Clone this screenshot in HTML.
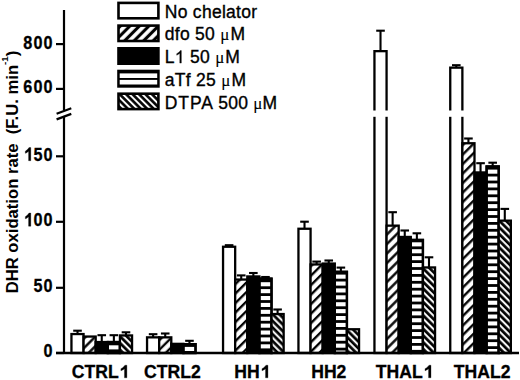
<!DOCTYPE html>
<html><head><meta charset="utf-8"><style>
html,body{margin:0;padding:0;background:#fff;width:520px;height:380px;overflow:hidden}
svg{display:block}
text{font-family:"Liberation Sans",sans-serif;fill:#000}
.tl{font-weight:bold;font-size:18.4px;text-anchor:end;letter-spacing:1.3px;stroke:#000;stroke-width:0.3px}
.xl{font-weight:bold;font-size:17.6px;text-anchor:middle;stroke:#000;stroke-width:0.3px}
.lg{font-size:17.5px;letter-spacing:0.28px;stroke:#000;stroke-width:0.35px}
.one{fill:none!important;stroke:none!important}
.yl{font-weight:bold;font-size:16.65px;text-anchor:middle}
</style></head><body>
<svg width="520" height="380" viewBox="0 0 520 380">
<defs>
<pattern id="p1" patternUnits="userSpaceOnUse" width="6.72" height="10" patternTransform="translate(82.42,335.4) rotate(45)"><rect width="6.72" height="10" fill="#fff"/><rect x="2.13" width="2.35" height="10" fill="#000"/><rect x="8.85" width="2.35" height="10" fill="#000"/><rect x="-4.58" width="2.35" height="10" fill="#000"/></pattern>
<pattern id="p2" patternUnits="userSpaceOnUse" width="4.74" height="10" patternTransform="translate(118.78,334.3) rotate(-45)"><rect width="4.74" height="10" fill="#000"/><rect x="0.78" width="2" height="10" fill="#fff"/><rect x="5.52" width="2" height="10" fill="#fff"/><rect x="-3.96" width="2" height="10" fill="#fff"/></pattern>
<pattern id="p3" patternUnits="userSpaceOnUse" width="6.72" height="10" patternTransform="translate(158.02,336.2) rotate(45)"><rect width="6.72" height="10" fill="#fff"/><rect x="2.63" width="2.35" height="10" fill="#000"/><rect x="9.35" width="2.35" height="10" fill="#000"/><rect x="-4.09" width="2.35" height="10" fill="#000"/></pattern>
<pattern id="p4" patternUnits="userSpaceOnUse" width="6.72" height="10" patternTransform="translate(234.02,278.4) rotate(45)"><rect width="6.72" height="10" fill="#fff"/><rect x="3.83" width="2.35" height="10" fill="#000"/><rect x="10.55" width="2.35" height="10" fill="#000"/><rect x="-2.89" width="2.35" height="10" fill="#000"/></pattern>
<pattern id="p5" patternUnits="userSpaceOnUse" width="4.74" height="10" patternTransform="translate(270.38,312.9) rotate(-45)"><rect width="4.74" height="10" fill="#000"/><rect x="2.05" width="2" height="10" fill="#fff"/><rect x="6.79" width="2" height="10" fill="#fff"/><rect x="-2.68" width="2" height="10" fill="#fff"/></pattern>
<pattern id="p6" patternUnits="userSpaceOnUse" width="6.72" height="10" patternTransform="translate(309.42,263.3) rotate(45)"><rect width="6.72" height="10" fill="#fff"/><rect x="1.92" width="2.35" height="10" fill="#000"/><rect x="8.64" width="2.35" height="10" fill="#000"/><rect x="-4.8" width="2.35" height="10" fill="#000"/></pattern>
<pattern id="p7" patternUnits="userSpaceOnUse" width="4.74" height="10" patternTransform="translate(345.78,328.1) rotate(-45)"><rect width="4.74" height="10" fill="#000"/><rect x="0.71" width="2" height="10" fill="#fff"/><rect x="5.45" width="2" height="10" fill="#fff"/><rect x="-4.03" width="2" height="10" fill="#fff"/></pattern>
<pattern id="p8" patternUnits="userSpaceOnUse" width="6.72" height="10" patternTransform="translate(385.42,224.5) rotate(45)"><rect width="6.72" height="10" fill="#fff"/><rect x="0.23" width="2.35" height="10" fill="#000"/><rect x="6.94" width="2.35" height="10" fill="#000"/><rect x="-6.49" width="2.35" height="10" fill="#000"/></pattern>
<pattern id="p9" patternUnits="userSpaceOnUse" width="4.74" height="10" patternTransform="translate(421.78,266.3) rotate(-45)"><rect width="4.74" height="10" fill="#000"/><rect x="0.78" width="2" height="10" fill="#fff"/><rect x="5.52" width="2" height="10" fill="#fff"/><rect x="-3.96" width="2" height="10" fill="#fff"/></pattern>
<pattern id="p10" patternUnits="userSpaceOnUse" width="6.72" height="10" patternTransform="translate(461.22,142.1) rotate(45)"><rect width="6.72" height="10" fill="#fff"/><rect x="1.99" width="2.35" height="10" fill="#000"/><rect x="8.71" width="2.35" height="10" fill="#000"/><rect x="-4.72" width="2.35" height="10" fill="#000"/></pattern>
<pattern id="p11" patternUnits="userSpaceOnUse" width="4.74" height="10" patternTransform="translate(497.58,219.5) rotate(-45)"><rect width="4.74" height="10" fill="#000"/><rect x="1.7" width="2" height="10" fill="#fff"/><rect x="6.44" width="2" height="10" fill="#fff"/><rect x="-3.04" width="2" height="10" fill="#fff"/></pattern>
<pattern id="p12" patternUnits="userSpaceOnUse" width="6.72" height="10" patternTransform="translate(117.3,24.4) rotate(45)"><rect width="6.72" height="10" fill="#fff"/><rect x="1.77" width="3.1" height="10" fill="#000"/><rect x="8.49" width="3.1" height="10" fill="#000"/><rect x="-4.94" width="3.1" height="10" fill="#000"/></pattern>
<pattern id="p13" patternUnits="userSpaceOnUse" width="4.56" height="10" patternTransform="translate(117.3,92.5) rotate(-45)"><rect width="4.56" height="10" fill="#000"/><rect x="1.76" width="2" height="10" fill="#fff"/><rect x="6.32" width="2" height="10" fill="#fff"/><rect x="-2.8" width="2" height="10" fill="#fff"/></pattern>
</defs>
<g stroke="#000" stroke-width="2.3">
<rect x="71.45" y="334.05" width="12.12" height="18.95" fill="#fff"/>
<rect x="83.57" y="336.55" width="12.12" height="16.45" fill="url(#p1)"/>
<rect x="95.69" y="342.05" width="12.12" height="10.95" fill="#000"/>
<rect x="107.81" y="342.05" width="12.12" height="10.95" fill="#000"/>
<rect x="108.96" y="345.3" width="9.82" height="4.1" fill="#fff" stroke="none"/>
<rect x="107.81" y="342.05" width="12.12" height="10.95" fill="none"/>
<rect x="119.93" y="335.45" width="12.12" height="17.55" fill="url(#p2)"/>
<rect x="147.05" y="337.35" width="12.12" height="15.65" fill="#fff"/>
<rect x="159.17" y="337.35" width="12.12" height="15.65" fill="url(#p3)"/>
<rect x="171.29" y="343.85" width="12.12" height="9.15" fill="#000"/>
<rect x="183.41" y="344.15" width="12.12" height="8.85" fill="#000"/>
<rect x="184.56" y="346.9" width="9.82" height="4.1" fill="#fff" stroke="none"/>
<rect x="183.41" y="344.15" width="12.12" height="8.85" fill="none"/>
<rect x="223.05" y="246.75" width="12.12" height="106.25" fill="#fff"/>
<rect x="235.17" y="279.55" width="12.12" height="73.45" fill="url(#p4)"/>
<rect x="247.29" y="276.45" width="12.12" height="76.55" fill="#000"/>
<rect x="259.41" y="278.65" width="12.12" height="74.35" fill="#000"/>
<rect x="260.56" y="282.2" width="9.82" height="4.1" fill="#fff" stroke="none"/>
<rect x="260.56" y="289.1" width="9.82" height="4.1" fill="#fff" stroke="none"/>
<rect x="260.56" y="296" width="9.82" height="4.1" fill="#fff" stroke="none"/>
<rect x="260.56" y="302.9" width="9.82" height="4.1" fill="#fff" stroke="none"/>
<rect x="260.56" y="309.8" width="9.82" height="4.1" fill="#fff" stroke="none"/>
<rect x="260.56" y="316.7" width="9.82" height="4.1" fill="#fff" stroke="none"/>
<rect x="260.56" y="323.6" width="9.82" height="4.1" fill="#fff" stroke="none"/>
<rect x="260.56" y="330.5" width="9.82" height="4.1" fill="#fff" stroke="none"/>
<rect x="260.56" y="337.4" width="9.82" height="4.1" fill="#fff" stroke="none"/>
<rect x="260.56" y="344.3" width="9.82" height="4.1" fill="#fff" stroke="none"/>
<rect x="259.41" y="278.65" width="12.12" height="74.35" fill="none"/>
<rect x="271.53" y="314.05" width="12.12" height="38.95" fill="url(#p5)"/>
<rect x="298.45" y="228.75" width="12.12" height="124.25" fill="#fff"/>
<rect x="310.57" y="264.45" width="12.12" height="88.55" fill="url(#p6)"/>
<rect x="322.69" y="263.55" width="12.12" height="89.45" fill="#000"/>
<rect x="334.81" y="271.85" width="12.12" height="81.15" fill="#000"/>
<rect x="335.96" y="274.6" width="9.82" height="4.1" fill="#fff" stroke="none"/>
<rect x="335.96" y="281.5" width="9.82" height="4.1" fill="#fff" stroke="none"/>
<rect x="335.96" y="288.4" width="9.82" height="4.1" fill="#fff" stroke="none"/>
<rect x="335.96" y="295.3" width="9.82" height="4.1" fill="#fff" stroke="none"/>
<rect x="335.96" y="302.2" width="9.82" height="4.1" fill="#fff" stroke="none"/>
<rect x="335.96" y="309.1" width="9.82" height="4.1" fill="#fff" stroke="none"/>
<rect x="335.96" y="316" width="9.82" height="4.1" fill="#fff" stroke="none"/>
<rect x="335.96" y="322.9" width="9.82" height="4.1" fill="#fff" stroke="none"/>
<rect x="335.96" y="329.8" width="9.82" height="4.1" fill="#fff" stroke="none"/>
<rect x="335.96" y="336.7" width="9.82" height="4.1" fill="#fff" stroke="none"/>
<rect x="335.96" y="343.6" width="9.82" height="4.1" fill="#fff" stroke="none"/>
<rect x="335.96" y="350.5" width="9.82" height="1.3" fill="#fff" stroke="none"/>
<rect x="334.81" y="271.85" width="12.12" height="81.15" fill="none"/>
<rect x="346.93" y="329.25" width="12.12" height="23.75" fill="url(#p7)"/>
<rect x="374.45" y="51.15" width="12.12" height="301.85" fill="#fff"/>
<rect x="386.57" y="225.65" width="12.12" height="127.35" fill="url(#p8)"/>
<rect x="398.69" y="236.95" width="12.12" height="116.05" fill="#000"/>
<rect x="410.81" y="239.95" width="12.12" height="113.05" fill="#000"/>
<rect x="411.96" y="242.3" width="9.82" height="4.1" fill="#fff" stroke="none"/>
<rect x="411.96" y="249.2" width="9.82" height="4.1" fill="#fff" stroke="none"/>
<rect x="411.96" y="256.1" width="9.82" height="4.1" fill="#fff" stroke="none"/>
<rect x="411.96" y="263" width="9.82" height="4.1" fill="#fff" stroke="none"/>
<rect x="411.96" y="269.9" width="9.82" height="4.1" fill="#fff" stroke="none"/>
<rect x="411.96" y="276.8" width="9.82" height="4.1" fill="#fff" stroke="none"/>
<rect x="411.96" y="283.7" width="9.82" height="4.1" fill="#fff" stroke="none"/>
<rect x="411.96" y="290.6" width="9.82" height="4.1" fill="#fff" stroke="none"/>
<rect x="411.96" y="297.5" width="9.82" height="4.1" fill="#fff" stroke="none"/>
<rect x="411.96" y="304.4" width="9.82" height="4.1" fill="#fff" stroke="none"/>
<rect x="411.96" y="311.3" width="9.82" height="4.1" fill="#fff" stroke="none"/>
<rect x="411.96" y="318.2" width="9.82" height="4.1" fill="#fff" stroke="none"/>
<rect x="411.96" y="325.1" width="9.82" height="4.1" fill="#fff" stroke="none"/>
<rect x="411.96" y="332" width="9.82" height="4.1" fill="#fff" stroke="none"/>
<rect x="411.96" y="338.9" width="9.82" height="4.1" fill="#fff" stroke="none"/>
<rect x="411.96" y="345.8" width="9.82" height="4.1" fill="#fff" stroke="none"/>
<rect x="410.81" y="239.95" width="12.12" height="113.05" fill="none"/>
<rect x="422.93" y="267.45" width="12.12" height="85.55" fill="url(#p9)"/>
<rect x="450.25" y="67.65" width="12.12" height="285.35" fill="#fff"/>
<rect x="462.37" y="143.25" width="12.12" height="209.75" fill="url(#p10)"/>
<rect x="474.49" y="172.45" width="12.12" height="180.55" fill="#000"/>
<rect x="486.61" y="166.45" width="12.12" height="186.55" fill="#000"/>
<rect x="487.76" y="169.6" width="9.82" height="4.1" fill="#fff" stroke="none"/>
<rect x="487.76" y="176.5" width="9.82" height="4.1" fill="#fff" stroke="none"/>
<rect x="487.76" y="183.4" width="9.82" height="4.1" fill="#fff" stroke="none"/>
<rect x="487.76" y="190.3" width="9.82" height="4.1" fill="#fff" stroke="none"/>
<rect x="487.76" y="197.2" width="9.82" height="4.1" fill="#fff" stroke="none"/>
<rect x="487.76" y="204.1" width="9.82" height="4.1" fill="#fff" stroke="none"/>
<rect x="487.76" y="211" width="9.82" height="4.1" fill="#fff" stroke="none"/>
<rect x="487.76" y="217.9" width="9.82" height="4.1" fill="#fff" stroke="none"/>
<rect x="487.76" y="224.8" width="9.82" height="4.1" fill="#fff" stroke="none"/>
<rect x="487.76" y="231.7" width="9.82" height="4.1" fill="#fff" stroke="none"/>
<rect x="487.76" y="238.6" width="9.82" height="4.1" fill="#fff" stroke="none"/>
<rect x="487.76" y="245.5" width="9.82" height="4.1" fill="#fff" stroke="none"/>
<rect x="487.76" y="252.4" width="9.82" height="4.1" fill="#fff" stroke="none"/>
<rect x="487.76" y="259.3" width="9.82" height="4.1" fill="#fff" stroke="none"/>
<rect x="487.76" y="266.2" width="9.82" height="4.1" fill="#fff" stroke="none"/>
<rect x="487.76" y="273.1" width="9.82" height="4.1" fill="#fff" stroke="none"/>
<rect x="487.76" y="280" width="9.82" height="4.1" fill="#fff" stroke="none"/>
<rect x="487.76" y="286.9" width="9.82" height="4.1" fill="#fff" stroke="none"/>
<rect x="487.76" y="293.8" width="9.82" height="4.1" fill="#fff" stroke="none"/>
<rect x="487.76" y="300.7" width="9.82" height="4.1" fill="#fff" stroke="none"/>
<rect x="487.76" y="307.6" width="9.82" height="4.1" fill="#fff" stroke="none"/>
<rect x="487.76" y="314.5" width="9.82" height="4.1" fill="#fff" stroke="none"/>
<rect x="487.76" y="321.4" width="9.82" height="4.1" fill="#fff" stroke="none"/>
<rect x="487.76" y="328.3" width="9.82" height="4.1" fill="#fff" stroke="none"/>
<rect x="487.76" y="335.2" width="9.82" height="4.1" fill="#fff" stroke="none"/>
<rect x="487.76" y="342.1" width="9.82" height="4.1" fill="#fff" stroke="none"/>
<rect x="487.76" y="349" width="9.82" height="2.8" fill="#fff" stroke="none"/>
<rect x="486.61" y="166.45" width="12.12" height="186.55" fill="none"/>
<rect x="498.73" y="220.65" width="12.12" height="132.35" fill="url(#p11)"/>
</g>
<g stroke="#000" stroke-width="2.1" fill="none">
<line x1="77.51" y1="330.7" x2="77.51" y2="334.05"/>
<line x1="73.21" y1="330.7" x2="81.81" y2="330.7"/>
<line x1="101.75" y1="335.2" x2="101.75" y2="342.05"/>
<line x1="97.45" y1="335.2" x2="106.05" y2="335.2"/>
<line x1="113.87" y1="335.2" x2="113.87" y2="342.05"/>
<line x1="109.57" y1="335.2" x2="118.17" y2="335.2"/>
<line x1="125.99" y1="332.3" x2="125.99" y2="335.45"/>
<line x1="121.69" y1="332.3" x2="130.29" y2="332.3"/>
<line x1="153.11" y1="334.2" x2="153.11" y2="337.35"/>
<line x1="148.81" y1="334.2" x2="157.41" y2="334.2"/>
<line x1="165.23" y1="333.5" x2="165.23" y2="337.35"/>
<line x1="160.93" y1="333.5" x2="169.53" y2="333.5"/>
<line x1="189.47" y1="340.8" x2="189.47" y2="344.15"/>
<line x1="185.17" y1="340.8" x2="193.77" y2="340.8"/>
<line x1="229.11" y1="245.2" x2="229.11" y2="246.75"/>
<line x1="224.81" y1="245.2" x2="233.41" y2="245.2"/>
<line x1="241.23" y1="275.4" x2="241.23" y2="279.55"/>
<line x1="236.93" y1="275.4" x2="245.53" y2="275.4"/>
<line x1="253.35" y1="273" x2="253.35" y2="276.45"/>
<line x1="249.05" y1="273" x2="257.65" y2="273"/>
<line x1="265.47" y1="277" x2="265.47" y2="278.65"/>
<line x1="261.17" y1="277" x2="269.77" y2="277"/>
<line x1="277.59" y1="309.5" x2="277.59" y2="314.05"/>
<line x1="273.29" y1="309.5" x2="281.89" y2="309.5"/>
<line x1="304.51" y1="221.7" x2="304.51" y2="228.75"/>
<line x1="300.21" y1="221.7" x2="308.81" y2="221.7"/>
<line x1="316.63" y1="261.6" x2="316.63" y2="264.45"/>
<line x1="312.33" y1="261.6" x2="320.93" y2="261.6"/>
<line x1="328.75" y1="260.5" x2="328.75" y2="263.55"/>
<line x1="324.45" y1="260.5" x2="333.05" y2="260.5"/>
<line x1="340.87" y1="267.6" x2="340.87" y2="271.85"/>
<line x1="336.57" y1="267.6" x2="345.17" y2="267.6"/>
<line x1="380.51" y1="30.7" x2="380.51" y2="51.15"/>
<line x1="376.21" y1="30.7" x2="384.81" y2="30.7"/>
<line x1="392.63" y1="212.2" x2="392.63" y2="225.65"/>
<line x1="388.33" y1="212.2" x2="396.93" y2="212.2"/>
<line x1="404.75" y1="230.5" x2="404.75" y2="236.95"/>
<line x1="400.45" y1="230.5" x2="409.05" y2="230.5"/>
<line x1="416.87" y1="233.3" x2="416.87" y2="239.95"/>
<line x1="412.57" y1="233.3" x2="421.17" y2="233.3"/>
<line x1="428.99" y1="257.3" x2="428.99" y2="267.45"/>
<line x1="424.69" y1="257.3" x2="433.29" y2="257.3"/>
<line x1="456.31" y1="65.2" x2="456.31" y2="67.65"/>
<line x1="452.01" y1="65.2" x2="460.61" y2="65.2"/>
<line x1="468.43" y1="138.5" x2="468.43" y2="143.25"/>
<line x1="464.13" y1="138.5" x2="472.73" y2="138.5"/>
<line x1="480.55" y1="163.2" x2="480.55" y2="172.45"/>
<line x1="476.25" y1="163.2" x2="484.85" y2="163.2"/>
<line x1="492.67" y1="162.7" x2="492.67" y2="166.45"/>
<line x1="488.37" y1="162.7" x2="496.97" y2="162.7"/>
<line x1="504.79" y1="208.9" x2="504.79" y2="220.65"/>
<line x1="500.49" y1="208.9" x2="509.09" y2="208.9"/>
</g>
<rect x="372.3" y="110.5" width="16.42" height="6.3" fill="#fff"/>
<rect x="448.1" y="110.5" width="16.42" height="6.3" fill="#fff"/>
<g stroke="#000" stroke-width="2.2" fill="none">
<line x1="64" y1="10" x2="64" y2="110"/>
<line x1="64" y1="117" x2="64" y2="354"/>
<line x1="56" y1="353" x2="519" y2="353" stroke-width="2.5"/>
<line x1="56" y1="44.1" x2="64" y2="44.1"/>
<line x1="56" y1="88.9" x2="64" y2="88.9"/>
<line x1="56" y1="156.3" x2="64" y2="156.3"/>
<line x1="56" y1="221.8" x2="64" y2="221.8"/>
<line x1="56" y1="287.8" x2="64" y2="287.8"/>
<line x1="56" y1="353" x2="64" y2="353"/>
<line x1="56.6" y1="113.7" x2="71.3" y2="108.2"/>
<line x1="56.6" y1="119.4" x2="71.3" y2="113.9"/>
</g>
<rect x="118.5" y="2.9" width="39.9" height="15.4" fill="#fff" stroke="#000" stroke-width="2.6"/>
<text x="164.8" y="17.7" class="lg">No chelator</text>
<rect x="118.5" y="25.6" width="39.9" height="15.4" fill="url(#p12)" stroke="#000" stroke-width="2.6"/>
<text x="164.8" y="40.4" class="lg">dfo 50 <tspan font-family="Liberation Serif" style="stroke-width:0.1px;font-size:17px;letter-spacing:1.1px">μ</tspan>M</text>
<rect x="118.5" y="48.3" width="39.9" height="15.4" fill="#000" stroke="#000" stroke-width="2.6"/>
<text id="lg2" x="164.8" y="63.1" class="lg">L<tspan class="one">1</tspan> 50 <tspan font-family="Liberation Serif" style="stroke-width:0.1px;font-size:17px;letter-spacing:1.1px">μ</tspan>M</text>
<path transform="translate(174.82,63.10) scale(0.00854,-0.00854)" d="M763 0L583 0L583 1147C540 1106 483 1064 413 1023C342 982 279 951 223 930L223 1104C324 1151 412 1208 487 1276C562 1343 615 1409 646 1466L763 1466Z" fill="#000" stroke="#000" stroke-width="0.35" vector-effect="non-scaling-stroke"/>
<rect x="118.5" y="71" width="39.9" height="15.4" fill="#000" stroke="#000" stroke-width="2.6"/>
<rect x="119.7" y="73.4" width="37.5" height="4.6" fill="#fff"/>
<rect x="119.7" y="79.9" width="37.5" height="4.6" fill="#fff"/>
<text x="164.8" y="85.8" class="lg">aTf 25 <tspan font-family="Liberation Serif" style="stroke-width:0.1px;font-size:17px;letter-spacing:1.1px">μ</tspan>M</text>
<rect x="118.5" y="93.7" width="39.9" height="15.4" fill="url(#p13)" stroke="#000" stroke-width="2.6"/>
<text x="164.8" y="108.5" class="lg"><tspan letter-spacing="0.9px">DTPA</tspan> <tspan x="218.2">500</tspan> <tspan x="253.2" font-family="Liberation Serif" style="stroke-width:0.1px;font-size:17px;letter-spacing:1.1px">μ</tspan><tspan x="262.6">M</tspan></text>
<g transform="translate(53.7,48.5) scale(0.88,1)"><text id="tl0" class="tl">800</text></g>
<g transform="translate(53.7,93.3) scale(0.88,1)"><text id="tl1" class="tl">600</text></g>
<g transform="translate(53.7,160.7) scale(0.88,1)"><text id="tl2" class="tl"><tspan class="one">1</tspan>50</text><path transform="translate(-34.62,0.00) scale(0.00898,-0.00898)" d="M958 0L677 0L677 1056C610 990 450 880 264 820L264 1065C410 1130 580 1260 730 1466L958 1466Z" fill="#000" stroke="#000" stroke-width="0.3" vector-effect="non-scaling-stroke"/></g>
<g transform="translate(53.7,226.2) scale(0.88,1)"><text id="tl3" class="tl"><tspan class="one">1</tspan>00</text><path transform="translate(-34.62,0.00) scale(0.00898,-0.00898)" d="M958 0L677 0L677 1056C610 990 450 880 264 820L264 1065C410 1130 580 1260 730 1466L958 1466Z" fill="#000" stroke="#000" stroke-width="0.3" vector-effect="non-scaling-stroke"/></g>
<g transform="translate(53.7,292.2) scale(0.88,1)"><text id="tl4" class="tl">50</text></g>
<g transform="translate(53.7,357.4) scale(0.88,1)"><text id="tl5" class="tl">0</text></g>
<text id="xl0" x="100.1" y="377.8" class="xl">CTRL<tspan class="one">1</tspan></text><path transform="translate(118.65,377.80) scale(0.00859,-0.00859)" d="M958 0L677 0L677 1056C610 990 450 880 264 820L264 1065C410 1130 580 1260 730 1466L958 1466Z" fill="#000" stroke="#000" stroke-width="0.3" vector-effect="non-scaling-stroke"/>
<text id="xl1" x="172.4" y="377.8" class="xl">CTRL2</text>
<text id="xl2" x="251.9" y="377.8" class="xl">HH<tspan class="one">1</tspan></text><path transform="translate(259.71,377.80) scale(0.00859,-0.00859)" d="M958 0L677 0L677 1056C610 990 450 880 264 820L264 1065C410 1130 580 1260 730 1466L958 1466Z" fill="#000" stroke="#000" stroke-width="0.3" vector-effect="non-scaling-stroke"/>
<text id="xl3" x="328.8" y="377.8" class="xl">HH2</text>
<text id="xl4" x="404.2" y="377.8" class="xl">THAL<tspan class="one">1</tspan></text><path transform="translate(422.75,377.80) scale(0.00859,-0.00859)" d="M958 0L677 0L677 1056C610 990 450 880 264 820L264 1065C410 1130 580 1260 730 1466L958 1466Z" fill="#000" stroke="#000" stroke-width="0.3" vector-effect="non-scaling-stroke"/>
<text id="xl5" x="482.2" y="377.8" class="xl">THAL2</text>
<text class="yl" xml:space="preserve" transform="translate(17.5,172) rotate(-90)">DHR oxidation rate  (F.U. min<tspan dy="-9.5" font-size="9.8px">-1</tspan><tspan dy="9.5">)</tspan></text>
</svg>
</body></html>
